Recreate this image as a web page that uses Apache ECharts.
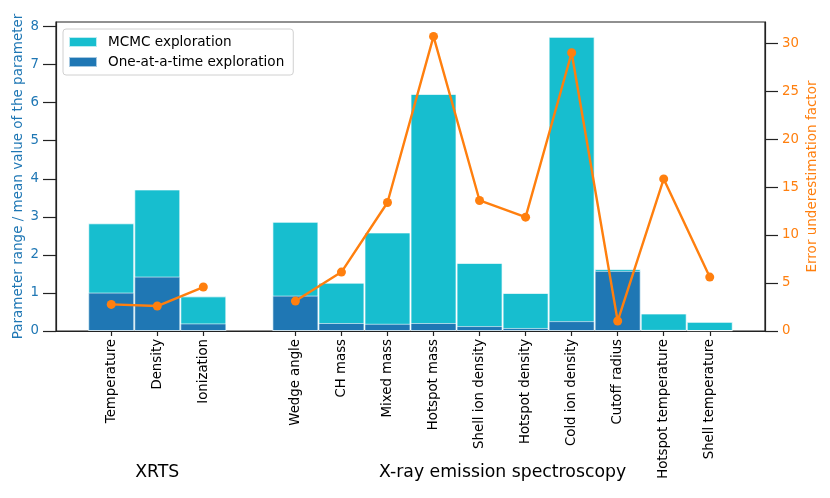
<!DOCTYPE html>
<html>
<head>
<meta charset="utf-8">
<script src="https://cdn.jsdelivr.net/npm/echarts@6/dist/echarts.min.js"></script>
<style>
html,body{margin:0;padding:0;background:#fff;}
#chart{width:830px;height:498px;}
</style>
</head>
<body>
<div id="chart"></div>
<script>
// ---- data ----
const categories = ["Temperature","Density","Ionization","","Wedge angle","CH mass","Mixed mass","Hotspot mass","Shell ion density","Hotspot density","Cold ion density","Cutoff radius","Hotspot temperature","Shell temperature"];
const mcmcRange = [2.83,3.72,0.91,null,2.87,1.27,2.59,6.23,1.79,1.00,7.73,1.63,0.46,0.24];
const oatRange  = [1.01,1.43,0.20,null,0.93,0.21,0.19,0.21,0.13,0.08,0.26,1.58,0.03,0.02];
const errorFactor = [2.77,2.60,4.58,null,3.12,6.14,13.39,30.70,13.60,11.86,29.0,1.04,15.85,5.62];
const groupNames = ["XRTS","X-ray emission spectroscopy"];
const groupCenters = [1, 8.5];
const leftTicks = [0,1,2,3,4,5,6,7,8];
const rightTicks = [0,5,10,15,20,25,30];

const FONT = 'DejaVu Sans';
const tickIdx = categories.map((c,i)=>c? i : null).filter(v=>v!==null);
const toPairs = arr => arr.map((v,i)=>[i, v==null ? '-' : v]);

const chart = echarts.init(document.getElementById('chart'), null, {renderer:'canvas'});
chart.setOption({
  animation:false,
  textStyle:{fontFamily:FONT},
  grid:{left:56,right:65,top:22,bottom:167,show:true,borderColor:'#222',borderWidth:1.2,backgroundColor:'transparent'},
  legend:{
    left:63, top:29, orient:'vertical',
    data:['MCMC exploration','One-at-a-time exploration'],
    icon:'rect', itemWidth:28, itemHeight:10, itemGap:6,
    padding:[6,9,6,5],
    backgroundColor:'#fff', borderColor:'#d0d0d0', borderWidth:1, borderRadius:3,
    textStyle:{fontFamily:FONT,fontSize:13.6,color:'#000',padding:[0,0,0,6],lineHeight:14}
  },
  xAxis:[{
    type:'value', min:-1.2, max:14.2, position:'bottom',
    splitLine:{show:false},
    axisLine:{show:true,onZero:false,lineStyle:{color:'#222',width:1.2}},
    axisTick:{show:true,length:5,lineStyle:{color:'#222',width:1.2},customValues:tickIdx},
    axisLabel:{customValues:tickIdx,rotate:90,fontSize:13.3,color:'#000',fontFamily:FONT,margin:8,
      formatter:v=>categories[Math.round(v)]}
  },{
    type:'value', min:-1.2, max:14.2, position:'bottom', offset:125,
    splitLine:{show:false},
    axisLine:{show:false,onZero:false}, axisTick:{show:false},
    axisLabel:{customValues:groupCenters,fontSize:17.3,color:'#000',fontFamily:FONT,margin:8,
      formatter:v=>groupNames[groupCenters.indexOf(v)]}
  }],
  yAxis:[{
    type:'value', min:0, max:8.12, position:'left',
    name:'Parameter range / mean value of the parameter', nameLocation:'middle', nameRotate:90, nameGap:31,
    nameMoveOverlap:false,
    nameTextStyle:{color:'#1f77b4',fontSize:13.5,fontFamily:FONT},
    splitLine:{show:false},
    axisLine:{show:true,onZero:false,lineStyle:{color:'#222',width:1.2}},
    axisTick:{show:true,length:13,lineStyle:{color:'#222',width:1.2},customValues:leftTicks},
    axisLabel:{customValues:leftTicks,color:'#1f77b4',fontSize:13.3,fontFamily:FONT,margin:17}
  },{
    type:'value', min:0, max:32.2, position:'right',
    name:'Error underestimation factor', nameLocation:'middle', nameRotate:90, nameGap:40,
    nameMoveOverlap:false,
    nameTextStyle:{color:'#ff7f0e',fontSize:13.5,fontFamily:FONT},
    splitLine:{show:false},
    axisLine:{show:true,onZero:false,lineStyle:{color:'#222',width:1.2}},
    axisTick:{show:true,length:13,lineStyle:{color:'#222',width:1.2},customValues:rightTicks},
    axisLabel:{customValues:rightTicks,color:'#ff7f0e',fontSize:13.3,fontFamily:FONT,margin:17}
  }],
  series:[{
    name:'MCMC exploration', type:'bar', xAxisIndex:0, yAxisIndex:0,
    data:toPairs(mcmcRange), barWidth:46, barGap:'-100%',
    itemStyle:{color:'#17becf',borderColor:'rgba(255,255,255,0.7)',borderWidth:1}
  },{
    name:'One-at-a-time exploration', type:'bar', xAxisIndex:0, yAxisIndex:0,
    data:toPairs(oatRange), barWidth:46, barGap:'-100%',
    itemStyle:{color:'#1f77b4',borderColor:'rgba(255,255,255,0.6)',borderWidth:1}
  },{
    name:'Error factor', type:'line', xAxisIndex:0, yAxisIndex:1, z:5,
    data:toPairs(errorFactor), connectNulls:false,
    symbol:'circle', symbolSize:9,
    lineStyle:{color:'#ff7f0e',width:2.4},
    itemStyle:{color:'#ff7f0e'}
  }]
});
</script>
</body>
</html>
